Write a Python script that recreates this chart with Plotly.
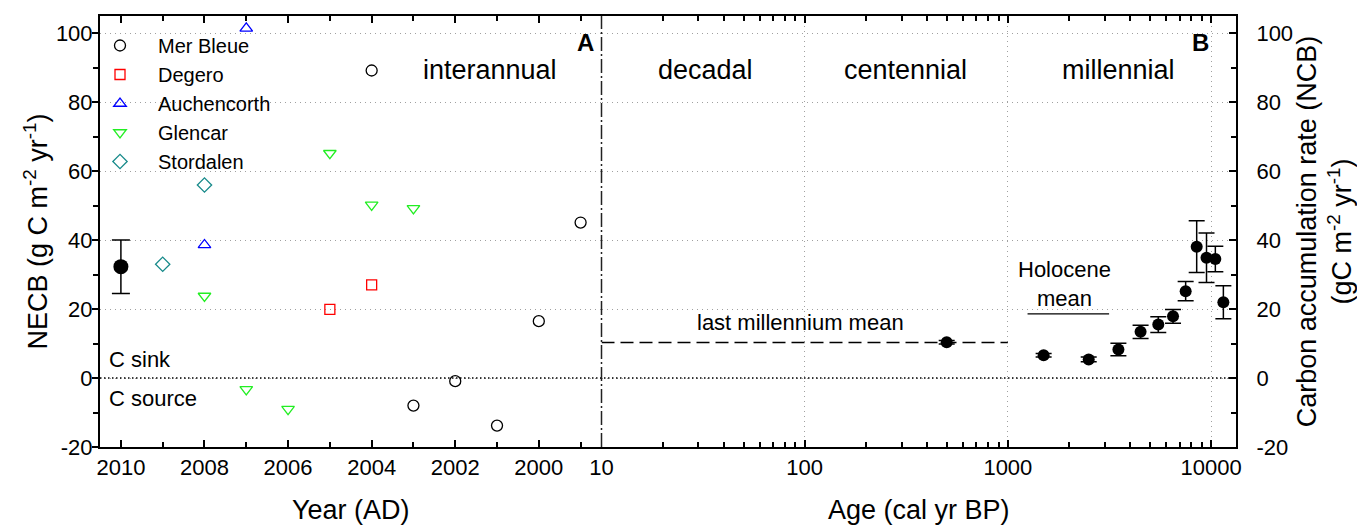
import math
import plotly.graph_objects as go

# ---------------- data ----------------
mb_year = [2004, 2003, 2002, 2001, 2000, 1999]
mb_necb = [89.2, -8.0, -0.9, -13.8, 16.5, 45.1]
degero_year = [2005, 2004]
degero_necb = [19.9, 27.0]
auch_year = [2008, 2007]
auch_necb = [38.6, 101.4]
glencar_year = [2008, 2007, 2006, 2005, 2004, 2003]
glencar_necb = [23.8, -3.3, -9.0, 65.2, 50.2, 49.2]
stordalen_year = [2009, 2008]
stordalen_necb = [33.0, 56.0]
mean_year = [2010]
mean_necb = [32.3]
mean_err_up = [7.7]
mean_err_dn = [7.8]

age_bp = [500, 1500, 2500, 3500, 4500, 5500, 6500, 7500, 8500, 9500, 10500, 11500]
ncb = [10.4, 6.6, 5.4, 8.3, 13.4, 15.5, 17.9, 25.2, 38.1, 34.9, 34.5, 22.0]
ncb_err = [0.5, 0.5, 0.7, 1.8, 1.9, 2.3, 2.0, 2.8, 7.5, 7.2, 3.7, 4.8]

last_mill_age = [10, 1000]
last_mill_ncb = [10.3, 10.3]
holo_age = [1250, 3150]
holo_ncb = [18.6, 18.6]

year_ticks = [2010, 2008, 2006, 2004, 2002, 2000]
age_ticks = [10, 100, 1000, 10000]
y_ticks = [-20, 0, 20, 40, 60, 80, 100]

# ---------------- layout geometry ----------------
W, H = 1357, 525
ML, MR, MT, MB = 100, 121, 16, 78
PW, PH = W - ML - MR, H - MT - MB
SPLIT = (601.5 - ML) / PW
FONT = "Liberation Sans, Arial, Helvetica, sans-serif"
GRID = "#a0a0a0"
GRID_DASH = "1px,4px"


def px_x(p):
    return (p - ML) / PW


def px_y(p):
    return 1 - (p - MT) / PH


fig = go.Figure()

open_line = 1.3
series = [
    ("Mer Bleue", mb_year, mb_necb, "circle-open", "black", 11),
    ("Degero", degero_year, degero_necb, "square-open", "#ff0000", 10),
    ("Auchencorth", auch_year, auch_necb, "triangle-up-open", "#0000ff", 11),
    ("Glencar", glencar_year, glencar_necb, "triangle-down-open", "#22ee22", 11),
    ("Stordalen", stordalen_year, stordalen_necb, "diamond-open", "#178a8a", 11),
]
for name, xs, ys, sym, col, sz in series:
    fig.add_trace(go.Scatter(
        x=xs, y=ys, mode="markers", name=name, xaxis="x", yaxis="y",
        marker=dict(symbol=sym, size=sz, color=col, line=dict(width=open_line, color=col)),
    ))

fig.add_trace(go.Scatter(
    x=mean_year, y=mean_necb, mode="markers", showlegend=False, xaxis="x", yaxis="y",
    marker=dict(symbol="circle", size=15, color="black"),
    error_y=dict(type="data", symmetric=False, array=mean_err_up, arrayminus=mean_err_dn,
                 color="black", thickness=1.5, width=9),
))

fig.add_trace(go.Scatter(
    x=last_mill_age, y=last_mill_ncb, mode="lines", showlegend=False, xaxis="x2", yaxis="y2",
    line=dict(color="black", width=1.5, dash="13px,6px"),
))
fig.add_trace(go.Scatter(
    x=holo_age, y=holo_ncb, mode="lines", showlegend=False, xaxis="x2", yaxis="y2",
    line=dict(color="black", width=1.3),
))
fig.add_trace(go.Scatter(
    x=age_bp, y=ncb, mode="markers", showlegend=False, xaxis="x2", yaxis="y2",
    marker=dict(symbol="circle", size=12, color="black"),
    error_y=dict(type="data", array=ncb_err, color="black", thickness=1.5, width=8),
))

axis_common = dict(
    showline=True, linewidth=2, linecolor="black",
    tickcolor="black", tickwidth=1.5,
    tickfont=dict(size=22, color="black", family=FONT),
    zeroline=False,
)
y_text = [str(v) for v in y_ticks]

fig.update_layout(
    width=W, height=H,
    margin=dict(l=ML, r=MR, t=MT, b=MB, autoexpand=False),
    paper_bgcolor="white", plot_bgcolor="white",
    font=dict(family=FONT, color="black", size=22),
    showlegend=True,
    legend=dict(x=px_x(82), y=px_y(26), xanchor="left", yanchor="top",
                bgcolor="rgba(0,0,0,0)", font=dict(size=20), itemwidth=66,
                tracegroupgap=0),
    xaxis=dict(
        domain=[0, SPLIT], range=[2010.5, 1998.5], anchor="y",
        tickvals=year_ticks, ticks="inside", ticklen=7, mirror="ticks",
        minor=dict(ticks="inside", ticklen=5, dtick=1, tick0=2000, tickcolor="black", tickwidth=1.5),
        showgrid=False,
        title=dict(text="Year (AD)", font=dict(size=27), standoff=22),
        **axis_common,
    ),
    xaxis2=dict(
        domain=[SPLIT, 1], type="log", range=[1, math.log10(13270)], anchor="y2",
        tickvals=age_ticks, ticktext=[str(v) for v in age_ticks],
        ticks="inside", ticklen=7, mirror="ticks",
        minor=dict(ticks="inside", ticklen=5, dtick="D1", tickcolor="black", tickwidth=1.5, showgrid=False),
        showgrid=True, gridcolor=GRID, griddash=GRID_DASH, gridwidth=1,
        title=dict(text="Age (cal yr BP)", font=dict(size=27), standoff=22),
        **axis_common,
    ),
    yaxis=dict(
        domain=[0, 1], range=[-20, 105], anchor="x",
        tickvals=y_ticks, ticktext=y_text, ticks="outside", ticklen=6,
        minor=dict(ticks="outside", ticklen=5, dtick=10, tick0=0, tickcolor="black", tickwidth=1.5, showgrid=False),
        showgrid=True, gridcolor=GRID, griddash=GRID_DASH, gridwidth=1,
        ticklabelstandoff=-5,
        title=dict(text="NECB (g C m<sup>-2</sup> yr<sup>-1</sup>)", font=dict(size=27), standoff=0),
        **axis_common,
    ),
    yaxis2=dict(
        domain=[0, 1], range=[-20, 105], anchor="x2", side="right",
        tickvals=y_ticks, ticktext=y_text, ticks="inside", ticklen=7,
        minor=dict(ticks="inside", ticklen=5, dtick=10, tick0=0, tickcolor="black", tickwidth=1.5, showgrid=False),
        showgrid=True, gridcolor=GRID, griddash=GRID_DASH, gridwidth=1,
        ticklabelstandoff=14,
        title=dict(text="Carbon accumulation rate (NCB)<br>(gC m<sup>-2</sup> yr<sup>-1</sup>)",
                   font=dict(size=27), standoff=2),
        **axis_common,
    ),
)

# reference lines: zero line and the panel divider
fig.add_shape(type="line", xref="paper", yref="y", x0=0, x1=1, y0=0, y1=0,
              line=dict(color="black", width=1.5, dash="1.5px,2.5px"), layer="above")
fig.add_shape(type="line", xref="paper", yref="paper", x0=SPLIT, x1=SPLIT, y0=0, y1=1,
              line=dict(color="#222222", width=1.5, dash="14px,3px,2px,3px"), layer="above")

ann = [
    ("interannual", 490, 70, 27, "center"),
    ("decadal", 705, 70, 27, "center"),
    ("centennial", 905, 70, 27, "center"),
    ("millennial", 1118, 70, 27, "center"),
    ("<b>A</b>", 585, 43, 24, "center"),
    ("<b>B</b>", 1200, 43, 24, "center"),
    ("C sink", 107, 359, 22, "left"),
    ("C source", 107, 398, 22, "left"),
    ("last millennium mean", 800, 322, 22, "center"),
    ("Holocene<br>mean", 1064, 284, 22, "center"),
]
for text, x, y, size, anchor in ann:
    fig.add_annotation(text=text, xref="paper", yref="paper", x=px_x(x), y=px_y(y),
                       xanchor=anchor, yanchor="middle", showarrow=False,
                       font=dict(size=size, family=FONT, color="black"))

fig.write_html("out.html")
